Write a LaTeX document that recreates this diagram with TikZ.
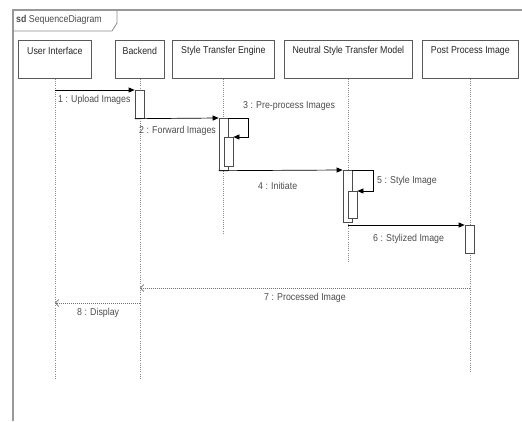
\documentclass[tikz,border=0pt]{standalone}
\usepackage{fontspec}
\setmainfont{Liberation Sans}
\usepackage{graphicx}
\usetikzlibrary{arrows.meta}
\newcommand{\tx}[1]{\scalebox{0.88}[1]{#1}}
\tikzset{
  frameline/.style={draw=black!40, line width=1.4pt},
  headbox/.style={draw=black!65, line width=0.7pt, rectangle, inner sep=0pt, anchor=north west},
  headtext/.style={font=\fontsize{10}{12}\selectfont, text=black!85, inner sep=0pt, anchor=center},
  lifeline/.style={draw=black!45, line width=0.6pt, dash pattern=on 1pt off 1.2pt},
  actbox/.style={draw=black!70, fill=white, line width=0.7pt, rectangle, inner sep=0pt, minimum width=9pt, anchor=north},
  msg/.style={draw=black, line width=0.7pt, -{Triangle[length=6pt,width=5pt]}},
  ret/.style={draw=black!55, line width=0.7pt, dash pattern=on 1pt off 1pt, -{Straight Barb[length=3.5pt,width=7pt]}},
  msglabel/.style={font=\fontsize{10}{12}\selectfont, text=black!70, inner sep=0pt, anchor=west},
}
\begin{document}
\begin{tikzpicture}[x=1pt,y=-1pt]
\useasboundingbox (0,0) rectangle (522,421);
% frame
\draw[frameline] (13,421) -- (13,10) -- (522,10);
\draw[draw=black!45, line width=0.8pt] (13,31) -- (112,31) -- (117,23) -- (117,10);
\node[font=\fontsize{10}{12}\selectfont, text=black!70, inner sep=0pt, anchor=west] (title) at (16,20) {\tx{\textbf{sd} SequenceDiagram}};
% lifeline heads
\node[headbox, minimum width=73pt, minimum height=38pt] (ui) at (18,40) {};
\node[headbox, minimum width=49pt, minimum height=38pt] (be) at (115,40) {};
\node[headbox, minimum width=102pt, minimum height=38pt] (en) at (172,40) {};
\node[headbox, minimum width=128pt, minimum height=38pt] (mo) at (284,40) {};
\node[headbox, minimum width=96pt, minimum height=38pt] (po) at (422,40) {};
\node[headtext] (uit) at ([yshift=-11pt]ui.north) {\tx{User Interface}};
\node[headtext] (bet) at ([yshift=-11pt]be.north) {\tx{Backend}};
\node[headtext] (ent) at ([yshift=-11pt]en.north) {\tx{Style Transfer Engine}};
\node[headtext] (mot) at ([yshift=-11pt]mo.north) {\tx{Neutral Style Transfer Model}};
\node[headtext] (pot) at ([yshift=-11pt]po.north) {\tx{Post Process Image}};
% lifeline ends
\coordinate (uiE) at (ui.center |- 0,378);
\coordinate (beE) at (be.center |- 0,380);
\coordinate (enE) at (en.center |- 0,233);
\coordinate (moE) at (mo.center |- 0,262);
\coordinate (poE) at (po.center |- 0,373);
\draw[lifeline] (ui) -- (uiE);
\draw[lifeline] (be) -- (beE);
\draw[lifeline] (en) -- (enE);
\draw[lifeline] (mo) -- (moE);
\draw[lifeline] (po) -- (poE);
% activations
\node[actbox, minimum height=28pt] (a1) at (139.5,90) {};
\node[actbox, minimum height=52pt] (e1) at (223.5,118) {};
\node[actbox, minimum height=29pt] (e2) at (228.5,137) {};
\node[actbox, minimum height=52pt] (d1) at (347.5,170) {};
\node[actbox, minimum height=27pt] (d2) at (352.5,191) {};
\node[actbox, minimum height=28pt] (p1) at (469.5,225) {};
% messages
\draw[msg] (ui.center |- a1.north) -- (a1.north west);
\draw[msg] (a1.south west) -- (e1.north west);
\draw[msg] (e1.north east) -- ++(20,0) |- (e2.north east);
\draw[msg] (e1.south west) -- (d1.north west);
\draw[msg] (d1.north east) -- ++(21,0) |- (d2.north east);
\draw[msg] (mo.center |- p1.north) -- (p1.north west);
\coordinate (r7) at (po.center |- 0,288);
\coordinate (r8) at (be.center |- 0,303);
\draw[ret] (r7) -- (be.center |- r7);
\draw[ret] (r8) -- (ui.center |- r8);
% labels
\node[msglabel] (l1) at (58,100) {\tx{1 : Upload Images}};
\node[msglabel] (l2) at (139,131) {\tx{2 : Forward Images}};
\node[msglabel] (l3) at (243,106) {\tx{3 : Pre-process Images}};
\node[msglabel] (l4) at (258,186) {\tx{4 : Initiate}};
\node[msglabel] (l5) at (377,181) {\tx{5 : Style Image}};
\node[msglabel] (l6) at (373,239) {\tx{6 : Stylized Image}};
\node[msglabel] (l7) at (264,298) {\tx{7 : Processed Image}};
\node[msglabel] (l8) at (77,313) {\tx{8 : Display}};
\end{tikzpicture}
\end{document}
